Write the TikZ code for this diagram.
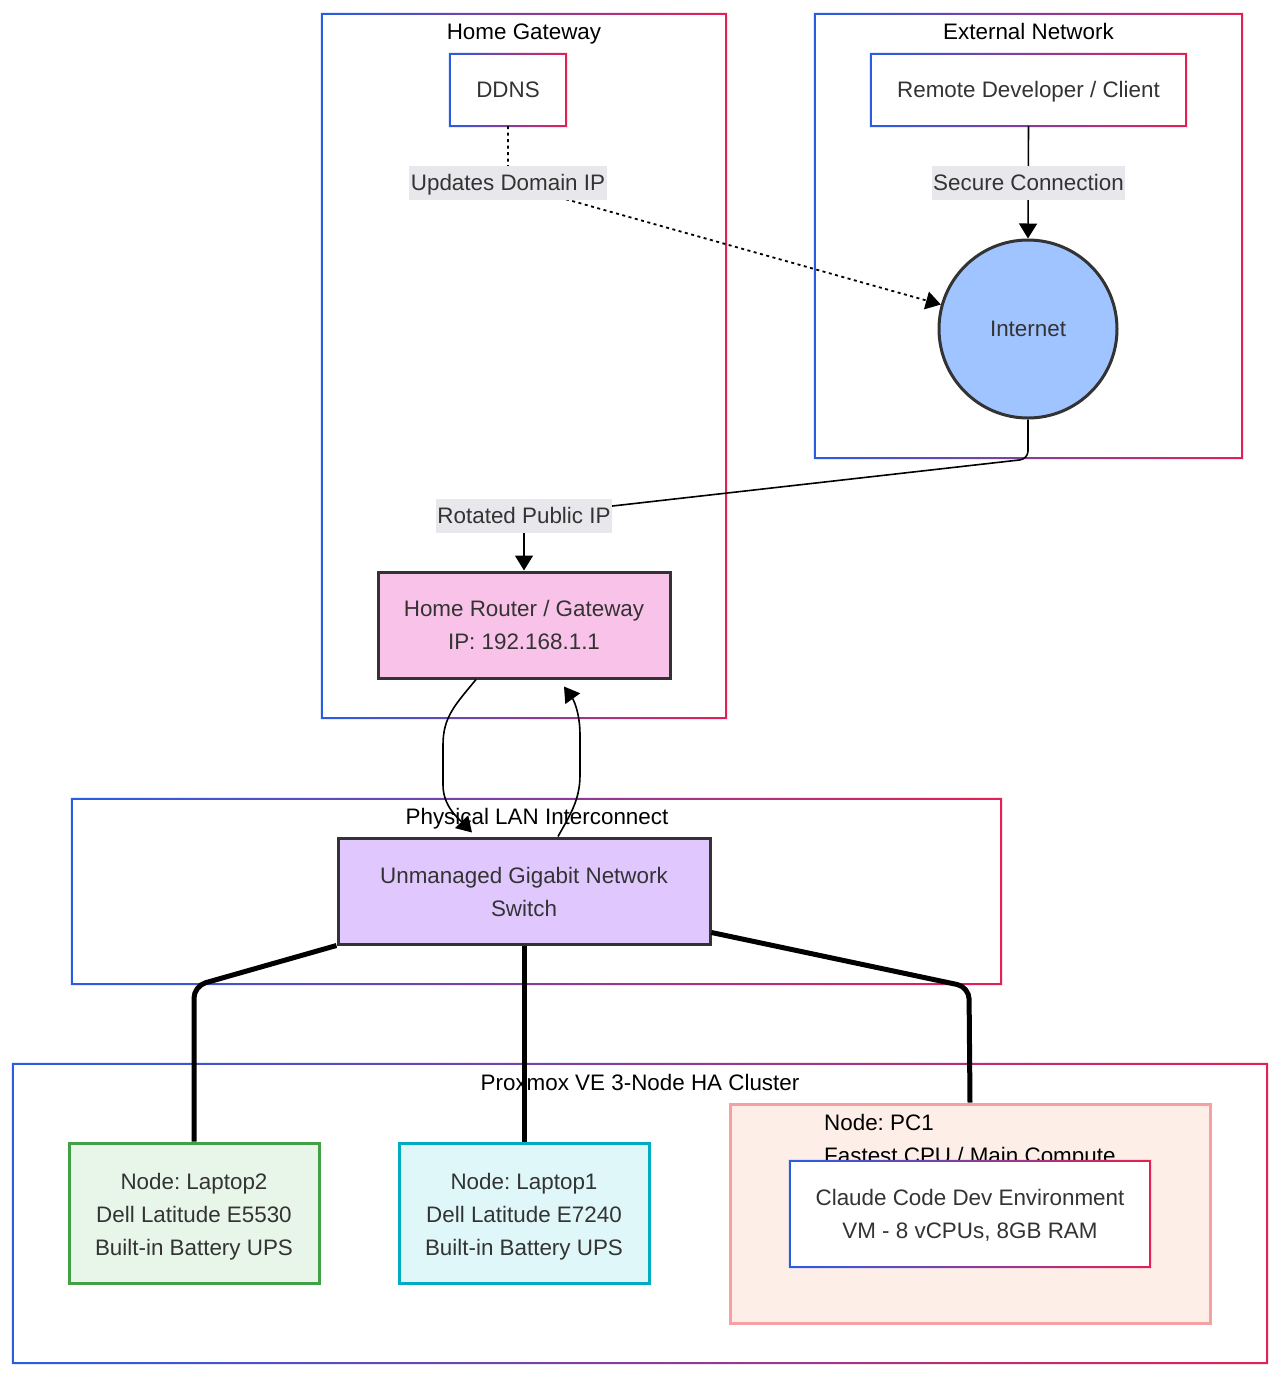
\documentclass[tikz,border=0pt]{standalone}
\usepackage{fontspec}
\setmainfont{Liberation Sans}
\usetikzlibrary{arrows.meta}
\frenchspacing
\definecolor{gB}{RGB}{40,92,228}
\definecolor{gR}{RGB}{228,32,84}
\definecolor{txtc}{RGB}{51,51,51}
\definecolor{lblbg}{RGB}{232,232,236}
\definecolor{strk}{RGB}{51,51,51}
\definecolor{inetfill}{RGB}{160,196,255}
\definecolor{routerfill}{RGB}{249,195,233}
\definecolor{swfill}{RGB}{224,200,255}
\definecolor{ltwofill}{RGB}{232,245,233}
\definecolor{ltwostroke}{RGB}{67,160,71}
\definecolor{lonefill}{RGB}{224,247,250}
\definecolor{lonestroke}{RGB}{0,172,193}
\definecolor{pcfill}{RGB}{254,238,232}
\definecolor{pcstroke}{RGB}{245,160,163}
\newcommand\gborder[1]{%
  \shade[left color=gB,right color=gR,even odd rule]
    ([shift={(-1pt,1pt)}]#1.north west) rectangle ([shift={(1pt,-1pt)}]#1.south east)
    ([shift={(1pt,-1pt)}]#1.north west) rectangle ([shift={(-1pt,1pt)}]#1.south east);}
\newcommand\lift[1]{\rule{0pt}{#1}}
\begin{document}
\begin{tikzpicture}[x=1pt,y=-1pt,
  every node/.style={font=\fontsize{22.4}{33}\selectfont, text=txtc, align=center, inner sep=0pt},
  oneline/.style={text height=20pt, text depth=4.3pt},
  cluster/.style={fill=white},
  title/.style={text=black, text height=16pt, text depth=4.7pt},
  plain/.style={fill=white},
  dark/.style={draw=strk, line width=3pt},
  elbl/.style={fill=lblbg, inner sep=1.5pt, minimum height=34pt, oneline},
  arr/.style={-{Triangle[length=15pt,width=18pt]}, line width=1.6pt, draw=black},
  dots/.style={line width=1.8pt, dash pattern=on 3pt off 3.5pt},
  fat/.style={line width=5pt, rounded corners=12pt}]
\useasboundingbox (0,0) rectangle (1280,1377);

% clusters
\node[cluster, minimum width=404pt, minimum height=704pt] (hg) at (524,366) {};
\gborder{hg}
\node[cluster, minimum width=427pt, minimum height=444pt] (en) at (1028.5,236) {};
\gborder{en}
\node[cluster, minimum width=929pt, minimum height=185pt] (lan) at (536.5,891.5) {};
\gborder{lan}
\node[cluster, minimum width=1254pt, minimum height=299pt] (px) at (640,1213.5) {};
\gborder{px}
\node[fill=pcfill, draw=pcstroke, line width=3pt, minimum width=480pt, minimum height=219pt] (pc) at (970,1213.5) {};

% cluster titles
\node[title] (thg) at (524,34) {Home Gateway};
\node[title] (ten) at (1028.5,34) {External Network};
\node[title] (tlan) at (537,819) {Physical LAN Interconnect};
\node[title] (tpx) at (640,1085) {Proxmox VE 3-Node HA Cluster};
\node[text=black, anchor=west, align=left] (tpc) at (824,1141) {Node: PC1\\Fastest CPU / Main Compute};

% nodes
\node[plain, oneline, minimum width=116pt, minimum height=72pt] (ddns) at (508,90) {DDNS};
\gborder{ddns}
\node[plain, oneline, minimum width=315pt, minimum height=72pt] (remote) at (1028.5,90) {Remote Developer / Client};
\gborder{remote}
\node[circle, dark, fill=inetfill, minimum size=178pt] (inet) at (1028,329) {Internet};
\node[dark, fill=routerfill, minimum width=292pt, minimum height=106pt] (router) at (524,625) {Home Router / Gateway\\IP: 192.168.1.1};
\node[dark, fill=swfill, minimum width=372pt, minimum height=106pt] (sw) at (524,891) {\lift{19pt}Unmanaged Gigabit Network\\Switch};
\node[fill=ltwofill, draw=ltwostroke, line width=3pt, minimum width=250pt, minimum height=140pt] (ltwo) at (194,1213) {\lift{23pt}Node: Laptop2\\Dell Latitude E5530\\Built-in Battery UPS};
\node[fill=lonefill, draw=lonestroke, line width=3pt, minimum width=250pt, minimum height=140pt] (lone) at (524,1213) {\lift{23pt}Node: Laptop1\\Dell Latitude E7240\\Built-in Battery UPS};
\node[plain, minimum width=360pt, minimum height=106pt] (vm) at (970,1214) {\lift{19pt}Claude Code Dev Environment\\VM - 8 vCPUs, 8GB RAM};
\gborder{vm}

% coordinates
\coordinate (cinet) at (1028,459);
\coordinate (cl) at (194,986);
\coordinate (cr) at (969,987);

% edges
\draw[dots, -{Triangle[length=15pt,width=18pt]}] (ddns.south) -- (508,183) -- (inet);
\draw[arr] (remote.south) -- (inet.north);
\draw[arr, rounded corners=8pt] (inet.south) -- (cinet) -- (524,516) -- (router.north);
\draw[arr] ([xshift=-48pt]router.south) .. controls (455,705) and (443,717) .. (443,745)
  -- (443,785) .. controls (443,806) and (458,818) .. ([xshift=-52pt,yshift=4pt]sw.north);
\draw[arr] ([xshift=34pt]sw.north) .. controls (570,815) and (580,800) .. (580,775)
  -- (580,735) .. controls (580,712) and (573,699) .. ([xshift=40pt,yshift=-7pt]router.south);
\draw[fat] (sw.south west) -- (cl) -- (ltwo.north);
\draw[fat] (sw.south) -- (lone.north);
\draw[fat] ([yshift=13pt]sw.south east) -- (cr) -- (pc.north);

% edge labels
\node[elbl] (lbl1) at (508,183) {Updates Domain IP};
\node[elbl] (lbl2) at (1028.5,183) {Secure Connection};
\node[elbl] (lbl3) at (524,516) {Rotated Public IP};
\end{tikzpicture}
\end{document}
